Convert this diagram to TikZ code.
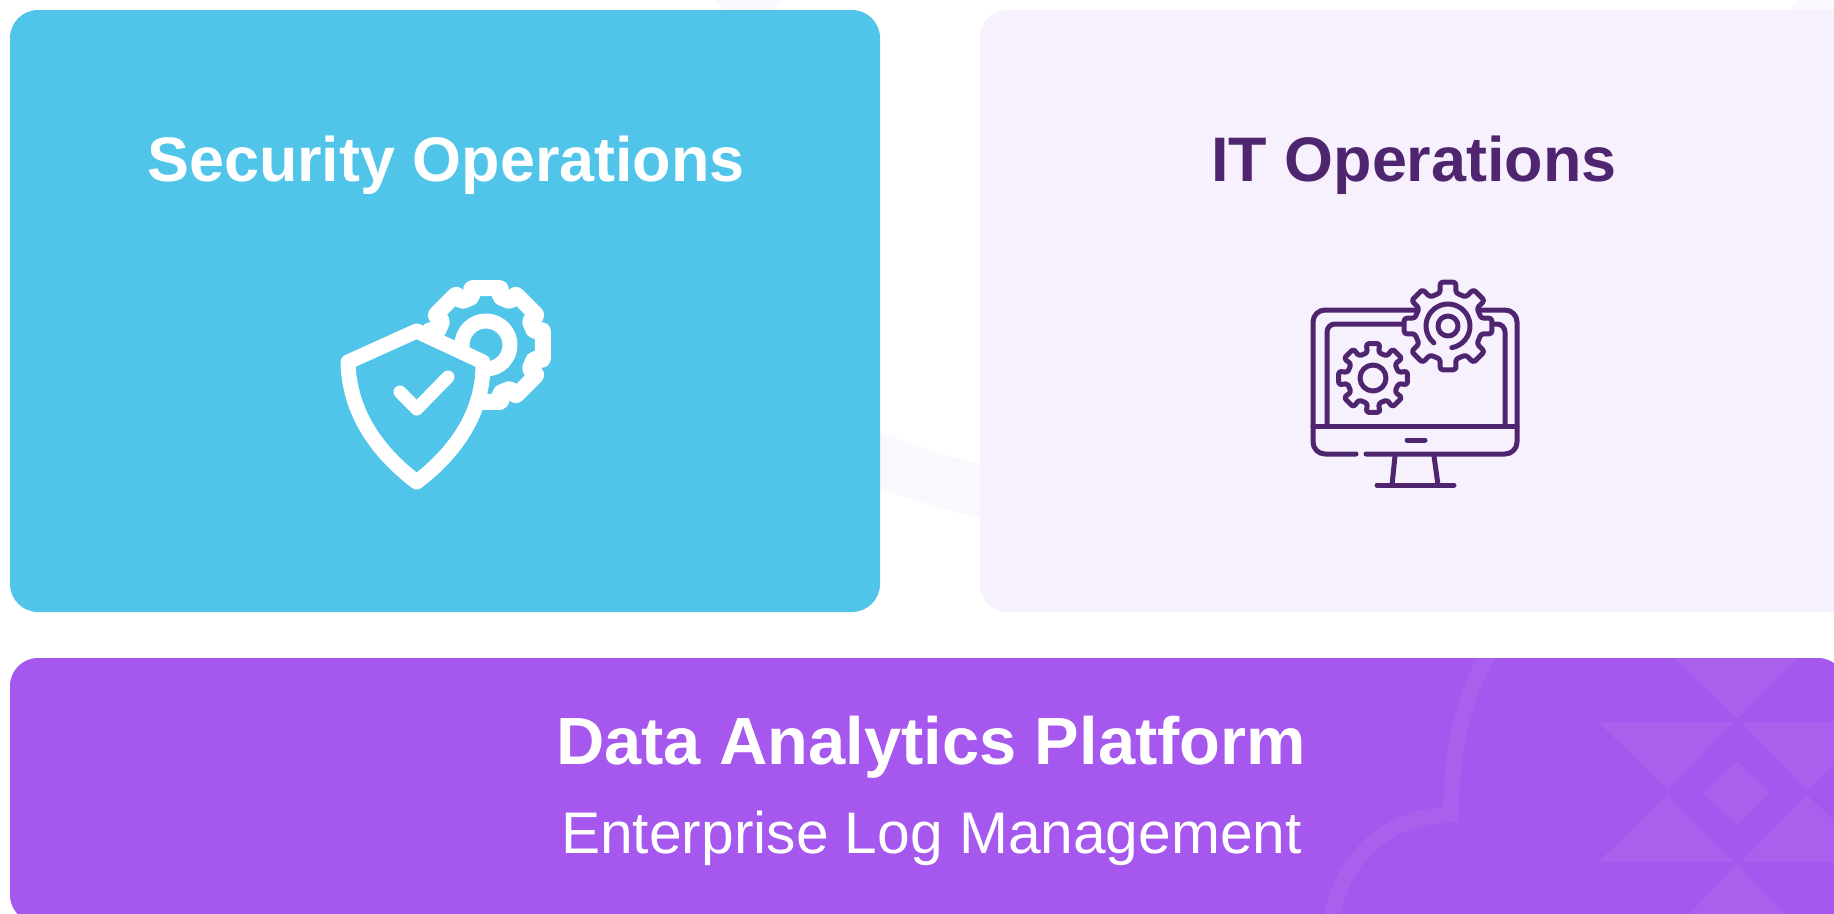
\documentclass[tikz,border=0pt]{standalone}
\usepackage{fontspec}
\setmainfont{Liberation Sans}
\usetikzlibrary{calc}
\definecolor{skyblue}{HTML}{50C5E9}
\definecolor{lilac}{HTML}{F7F1FE}
\definecolor{violetbar}{HTML}{A557EE}
\definecolor{violetpale}{HTML}{AA60ED}
\definecolor{ringpale}{HTML}{F9F8FD}
\definecolor{darkplum}{HTML}{4F2570}
\tikzset{
  card/.style={rounded corners=28pt,draw=none},
  bigtitle/.style={font=\bfseries\fontsize{62.9pt}{70pt}\selectfont,inner sep=0pt,anchor=center},
  whiteicon/.style={draw=white,line width=15pt,line join=round,line cap=round},
  plumicon/.style={draw=darkplum,line width=5pt,line join=round,line cap=round},
  pattern shape/.style={fill=violetpale,draw=none}
}
% gear path: centre, tooth radius, root radius, half tooth angle, half root angle
\newcommand{\gearpath}[5]{
  ($(#1)+(90-#4:#2)$)
  \foreach \gi in {0,45,...,315}{
    -- ($(#1)+(90+\gi-#4:#2)$) -- ($(#1)+(90+\gi+#4:#2)$)
    -- ($(#1)+(90+\gi+22.5-#5:#3)$) -- ($(#1)+(90+\gi+22.5+#5:#3)$)
  } -- cycle
}
\begin{document}
\begin{tikzpicture}[x=1pt,y=-1pt]
\useasboundingbox (0,0) rectangle (1834,913);
\fill[white] (0,0) rectangle (1834,913);
% faint background rings
\draw[ringpale,line width=52pt] (760,392) .. controls (820,438) and (900,480) .. (1050,505);
\fill[ringpale] (715,0) -- (782,0) -- (772,12) -- (726,12) -- cycle;
\fill[ringpale] (1798,0) -- (1834,0) -- (1834,12) -- (1787,12) -- cycle;
% cards
\fill[skyblue,card] (10,10) rectangle (880,612);
\fill[lilac,card] (980,10) rectangle (1870,612);
\fill[violetbar,card] (10,658) rectangle (1846,923);
% pattern in platform bar
\begin{scope}
\clip[rounded corners=28pt] (10,658) rectangle (1846,923);
\draw[violetpale,line width=16pt] (1330,925) .. controls (1340,860) and (1385,815) .. (1451,815) .. controls (1451,760) and (1460,700) .. (1491,650);
\fill[pattern shape] (1675,658) -- (1798,658) -- (1737,719) -- cycle;
\fill[pattern shape] (1598,722) -- (1734,722) -- (1667,790) -- cycle;
\fill[pattern shape] (1741,722) -- (1877,722) -- (1807,790) -- cycle;
\fill[pattern shape] (1598,862) -- (1734,862) -- (1667,795) -- cycle;
\fill[pattern shape] (1741,862) -- (1877,862) -- (1807,795) -- cycle;
\fill[pattern shape] (1737,761) -- (1770,793) -- (1737,825) -- (1703,793) -- cycle;
\fill[pattern shape] (1737,864) -- (1800,930) -- (1674,930) -- cycle;
\end{scope}
% texts
\node[bigtitle,text=white] (sec) at (446,165) {Security Operations};
\node[bigtitle,text=darkplum] (ito) at (1414,165) {IT Operations};
\node[bigtitle,text=white,font=\bfseries\fontsize{66.8pt}{72pt}\selectfont] (dap) at (931,747) {Data Analytics Platform};
\node[inner sep=0pt,text=white,font=\fontsize{58.7pt}{66pt}\selectfont] (elm) at (931.5,838) {Enterprise Log Management};
% security icon
\coordinate (gs) at (486,345);
\draw[whiteicon,line width=16pt,rounded corners=2pt,fill=skyblue] \gearpath{gs}{59}{50}{15}{7};
\draw[whiteicon] (gs) circle (24);
\draw[whiteicon,fill=skyblue] (416.7,331) -- (483,362) .. controls (484,412) and (456,452) .. (416.7,482) .. controls (377,452) and (349,412) .. (348,362) -- cycle;
\draw[whiteicon,line width=13pt] (400,392) -- (416.7,409) -- (448,377);
% IT icon: monitor
\draw[plumicon] (1356,454) -- (1325,454) arc[start angle=90,end angle=180,radius=12] -- (1313,322) arc[start angle=180,end angle=270,radius=12] -- (1505,310) arc[start angle=270,end angle=360,radius=12] -- (1517,442) arc[start angle=0,end angle=90,radius=12] -- (1366,454);
\draw[plumicon] (1327,426) -- (1327,332) arc[start angle=180,end angle=270,radius=8] -- (1497,324) arc[start angle=270,end angle=360,radius=8] -- (1505,426);
\draw[plumicon] (1313,426) -- (1517,426);
\draw[plumicon] (1407,440) -- (1425,440);
\draw[plumicon] (1395,456) -- (1392,485);
\draw[plumicon] (1434,456) -- (1438,485);
\draw[plumicon] (1377,485) -- (1454,485);
% IT icon: gears
\coordinate (gb) at (1448,326);
\coordinate (gc) at (1373,378);
\draw[plumicon,rounded corners=2.5pt,fill=lilac] \gearpath{gb}{44.5}{34}{10}{9};
\draw[plumicon] (gb) circle (10);
\draw[plumicon] ($(gb)+(130:22)$) arc[start angle=130,end angle=440,radius=22];
\draw[plumicon,rounded corners=2.5pt,fill=lilac] \gearpath{gc}{35}{26}{11}{10};
\draw[plumicon] (gc) circle (13);
\end{tikzpicture}
\end{document}
